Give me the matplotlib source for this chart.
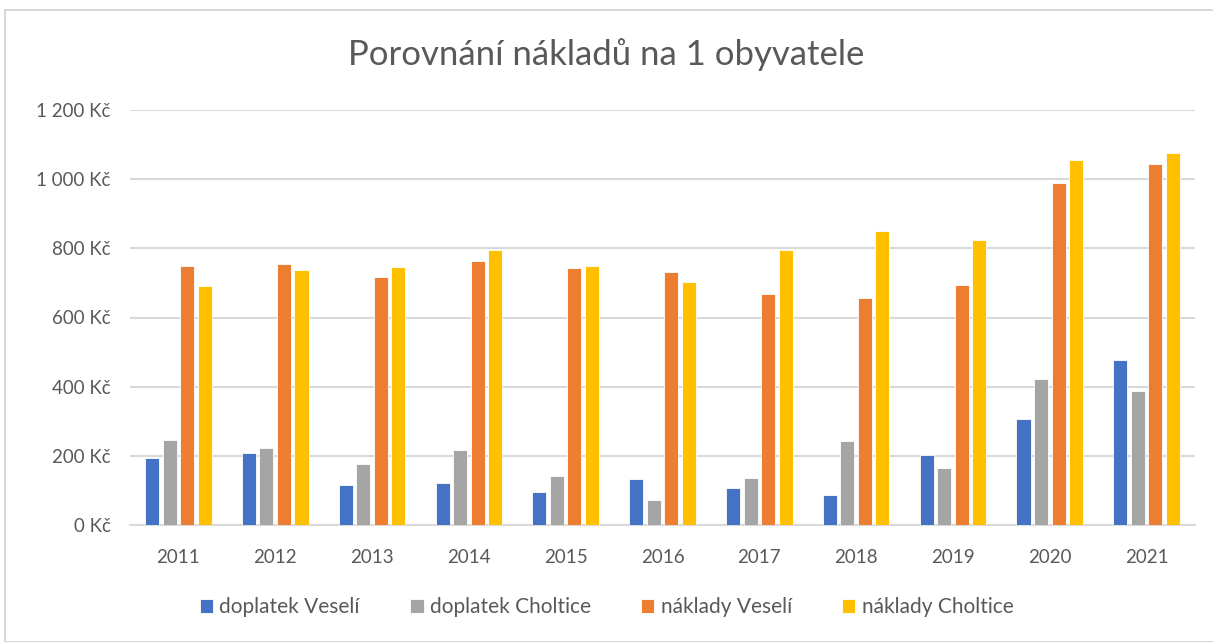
import matplotlib.pyplot as plt
import numpy as np
from matplotlib.patches import Rectangle

roky = ['2011', '2012', '2013', '2014', '2015', '2016', '2017', '2018', '2019', '2020', '2021']
doplatek_veseli = [195, 207, 117, 121, 95, 132, 106, 88, 202, 306, 476]
doplatek_choltice = [247, 224, 177, 217, 143, 73, 136, 243, 165, 421, 388]
naklady_veseli = [750, 754, 717, 762, 743, 732, 668, 657, 695, 988, 1043]
naklady_choltice = [691, 736, 747, 794, 750, 702, 794, 850, 824, 1054, 1075]

serie = [
    ('doplatek Veselí', doplatek_veseli, '#4472c4'),
    ('doplatek Choltice', doplatek_choltice, '#a5a5a5'),
    ('náklady Veselí', naklady_veseli, '#ed7d31'),
    ('náklady Choltice', naklady_choltice, '#ffc000'),
]

plt.rcParams['font.family'] = ['Lato', 'DejaVu Sans']
text_col = '#595959'

fig = plt.figure(figsize=(12.13, 6.42), dpi=100)
ax = fig.add_axes([130 / 1213, 1 - 525 / 642, 1065 / 1213, 415 / 642])

# ramecek grafu
fig.patches.append(Rectangle((5 / 1213, 0), 1.0, 1 - 10 / 642, transform=fig.transFigure,
                             fill=False, edgecolor='#d0d0d0', linewidth=1.2))

x = np.arange(len(roky))
pitch = 0.181
sirka = 0.145
for i, (nazev, hodnoty, barva) in enumerate(serie):
    ax.bar(x + (i - 1.5) * pitch, hodnoty, sirka, color=barva, label=nazev,
           edgecolor='white', linewidth=0.6, zorder=3)

ax.set_xlim(-0.5, len(roky) - 0.5)
ax.set_ylim(0, 1200)
ax.set_yticks(range(0, 1201, 200))
ax.set_yticklabels(['0 Kč', '200 Kč', '400 Kč', '600 Kč', '800 Kč', '1 000 Kč', '1 200 Kč'])
ax.set_xticks(x)
ax.set_xticklabels(roky)
ax.grid(axis='y', color='#d9d9d9', linewidth=1.5, zorder=0)
for s in ['top', 'right', 'left']:
    ax.spines[s].set_visible(False)
ax.spines['bottom'].set_color('#d9d9d9')
ax.spines['bottom'].set_linewidth(1.5)
ax.tick_params(length=0, labelsize=13.5, colors=text_col)
ax.tick_params(axis='y', pad=14)
ax.tick_params(axis='x', pad=17)

fig.text(0.5, 1 - 55 / 642, 'Porovnání nákladů na 1 obyvatele', ha='center', va='center',
         fontsize=25, color=text_col)

ax.legend(loc='center', bbox_to_anchor=(0.5, 1 - 607 / 642), bbox_transform=fig.transFigure,
          ncol=4, frameon=False, fontsize=15, handlelength=0.65, handleheight=0.65,
          handletextpad=0.3, columnspacing=2.4, labelcolor=text_col)

fig.savefig('out.png', dpi=100)
